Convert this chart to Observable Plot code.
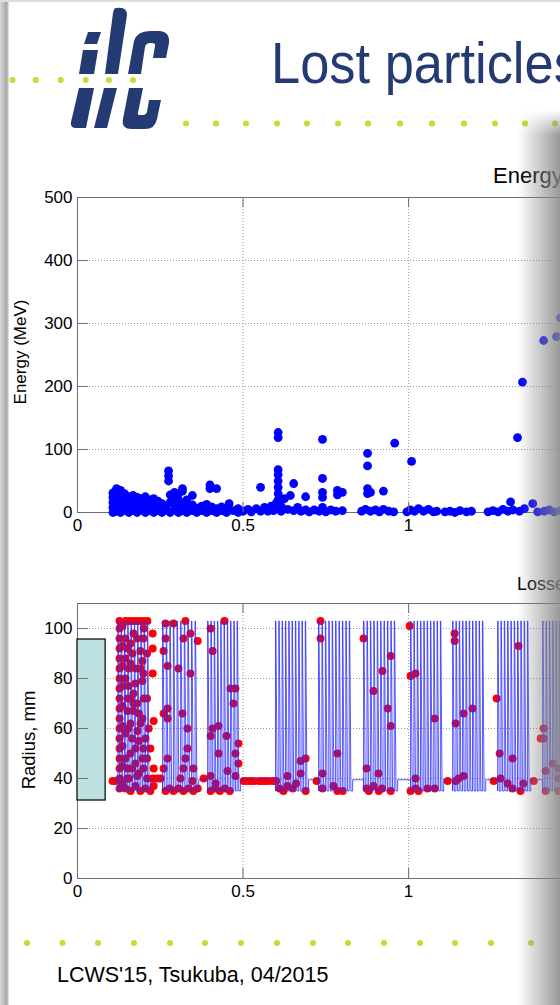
<!DOCTYPE html>
<html><head><meta charset="utf-8">
<script src="https://cdn.jsdelivr.net/npm/d3@7"></script>
<script src="https://cdn.jsdelivr.net/npm/@observablehq/plot@0.6"></script>
<style>
body{margin:0;background:#fff}
#page{position:relative;width:560px;height:1005px;overflow:hidden;background:#fff;font-family:"Liberation Sans",Arial,sans-serif}
.abs{position:absolute}
</style></head><body>
<div id="page">
<svg id="deco" class="abs" style="left:0;top:0" width="560" height="1005"></svg>
<div id="c1" class="abs" style="left:0;top:160px;width:620px"></div>
<div id="c2" class="abs" style="left:0;top:565px;width:620px"></div>
<div id="shR" class="abs" style="left:518px;top:110px;width:42px;height:895px;background:linear-gradient(to right,rgba(150,150,150,0),rgba(135,135,135,0.85));-webkit-mask-image:linear-gradient(to bottom,transparent,#000 25px);mask-image:linear-gradient(to bottom,transparent,#000 25px)"></div>
<div id="shL" class="abs" style="left:0;top:0;width:9px;height:1005px;background:linear-gradient(to right,#d8d8d8,#a6a6a6 75%,#ececec)"></div>
<div class="abs" style="left:0;top:0;width:560px;height:2px;background:#dedede"></div>
</div>
<script>
// ---------- data ----------
const energyTicks = [0, 100, 200, 300, 400, 500];
const radiusTicks = [0, 20, 40, 60, 80, 100];
const sTicks = [0, 0.5, 1, 1.5];
const sGrid = [0.5, 1];

// lost particle energy vs s (x, MeV)
const energyLoss = [
 [0.107,0],[0.107,8],[0.107,16],[0.107,24],[0.107,31],
 [0.118,2],[0.118,12],[0.118,22],[0.118,32],[0.118,38],
 [0.13,0],[0.13,9],[0.13,18],[0.13,27],[0.13,35],
 [0.142,4],[0.142,13],[0.142,22],[0.142,30],
 [0.155,0],[0.155,8],[0.155,17],[0.155,25],
 [0.168,3],[0.168,12],[0.168,21],[0.168,27],
 [0.18,0],[0.18,8],[0.18,17],[0.18,24],
 [0.193,4],[0.193,13],[0.193,22],
 [0.205,0],[0.205,9],[0.205,18],[0.205,25],
 [0.218,3],[0.218,12],[0.218,20],
 [0.23,0],[0.23,8],[0.23,16],[0.23,22],
 [0.243,3],[0.243,11],[0.243,18],
 [0.255,0],[0.255,8],[0.255,14],
 [0.268,4],[0.268,10],
 [0.275,50],[0.275,58],[0.275,66],
 [0.28,0],[0.28,16],[0.28,28],
 [0.293,4],[0.293,12],[0.293,24],[0.293,32],
 [0.305,0],[0.305,8],[0.305,20],[0.305,30],
 [0.317,3],[0.317,14],[0.317,34],[0.317,38],
 [0.33,0],[0.33,8],[0.33,20],
 [0.347,3],[0.347,12],[0.347,27],
 [0.36,0],[0.36,7],[0.375,3],[0.375,10],
 [0.39,0],[0.39,6],[0.39,13],
 [0.4,44],[0.4,38],[0.405,3],[0.405,9],
 [0.42,0],[0.42,6],[0.42,38],[0.435,3],[0.435,9],
 [0.45,0],[0.45,6],[0.458,14],[0.47,3],[0.485,0],[0.485,6],
 [0.5,2],[0.515,5],[0.525,1],[0.54,6],[0.553,40],[0.553,2],
 [0.565,8],[0.575,2],[0.585,10],[0.592,3],[0.6,15],[0.6,6],
 [0.606,127],[0.606,119],[0.606,68],[0.606,60],[0.606,50],[0.606,40],[0.606,30],[0.606,20],
 [0.615,2],[0.615,10],[0.625,22],[0.635,5],[0.643,27],[0.653,46],[0.653,3],
 [0.665,8],[0.675,2],[0.689,25],[0.689,4],[0.7,1],[0.715,4],[0.73,2],
 [0.74,116],[0.74,54],[0.74,32],[0.74,24],[0.74,8],
 [0.75,1],[0.765,4],[0.78,2],[0.785,35],[0.785,28],[0.8,32],[0.8,3],
 [0.858,2],[0.87,5],[0.876,94],[0.876,74],[0.876,38],[0.876,30],
 [0.885,2],[0.885,32],[0.9,4],[0.912,1],[0.924,34],[0.924,5],
 [0.94,2],[0.955,1],[0.958,110],
 [0.995,1],[1.005,4],[1.009,81],[1.018,2],[1.03,6],[1.045,2],[1.06,5],[1.075,1],[1.085,2],
 [1.11,1],[1.125,2],[1.14,0],[1.155,3],[1.175,1],[1.19,2],
 [1.24,1],[1.255,3],[1.27,1],[1.285,5],[1.3,2],[1.308,17],[1.315,4],
 [1.329,119],[1.335,2],[1.344,207],[1.35,6],[1.375,14],
 [1.39,1],[1.408,273],[1.41,2],[1.425,4],[1.44,1],[1.447,279],[1.459,309],[1.459,3]
];

// undulator-module aperture profile: block start, block end, number of teeth
const blockStart = [0.122, 0.257, 0.393, 0.598, 0.728, 0.864, 1.006, 1.133, 1.269, 1.405];
const blockEnd   = [0.221, 0.366, 0.492, 0.698, 0.831, 0.967, 1.106, 1.233, 1.369, 1.505];
const blockTeeth = [10, 10, 10, 10, 10, 10, 10, 10, 10, 10];
const rLow = 35, rHigh = 103, rFlat = 39.5, profileStart = 0.105;

// tank (cyan box): s from/to, radius from/to
const tank = [{s1: 0, s2: 0.085, r1: 31.2, r2: 95.6}];

// lost particle radius vs s (x, mm)
const radiusLoss = [
 // block 1
 [0.127,36],[0.127,40],[0.127,44],[0.127,48],[0.127,52],[0.127,56],[0.127,60],[0.127,64],[0.127,68],[0.127,72],[0.127,76],[0.127,80],[0.127,84],[0.127,88],[0.127,92],[0.127,96],[0.127,100],[0.127,103],
 [0.136,38],[0.136,45],[0.136,53],[0.136,61],[0.136,69],[0.136,77],[0.136,85],[0.136,93],[0.136,101],
 [0.145,103],[0.166,103],[0.19,103],[0.211,103],[0.155,103],[0.178,103],[0.2,103],
 [0.169,98],[0.199,96],[0.227,98],[0.227,92],[0.19,91],[0.166,90],[0.196,87],[0.175,84],[0.199,82],[0.227,82],
 [0.196,79],[0.175,78],[0.154,77],[0.169,74],[0.151,72],[0.169,70],[0.169,67],[0.151,67],[0.196,64],[0.23,63],
 [0.181,59],[0.154,60],[0.205,56],[0.199,52],[0.175,52],[0.196,48],[0.175,46],[0.23,44],[0.199,44],[0.151,44],
 [0.145,88],[0.145,58],[0.16,94],[0.16,62],[0.16,50],[0.18,70],[0.18,96],[0.185,66],[0.21,72],[0.21,90],[0.215,60],[0.145,48],[0.185,55],[0.155,84],[0.2,100],
 [0.145,96],[0.145,80],[0.15,92],[0.16,86],[0.16,72],[0.165,56],[0.19,62],[0.2,72],[0.21,48],[0.22,52],[0.155,40],[0.165,44],[0.185,42],[0.19,84],
 [0.106,39],[0.115,39],[0.145,36],[0.16,35],[0.175,37],[0.19,35],[0.205,36],[0.22,35],[0.23,37],[0.15,40],[0.18,41],[0.21,40],[0.227,40],[0.242,40],[0.251,40],
 // block 2
 [0.266,102],[0.29,102],[0.326,103],[0.32,96],[0.341,98],[0.363,95],[0.266,96],[0.26,91],[0.272,85],[0.305,84],[0.341,82],
 [0.272,68],[0.26,66],[0.272,64],[0.317,66],[0.332,60],[0.332,52],[0.272,48],[0.326,48],[0.26,44],[0.32,44],[0.35,44],[0.311,40],[0.347,39],
 [0.266,35],[0.278,36],[0.29,35],[0.305,36],[0.32,35],[0.335,36],[0.35,35],[0.363,36],
 // block 3
 [0.381,40],[0.402,100],[0.444,103],[0.408,91],[0.462,76],[0.477,76],[0.471,70],[0.408,60],[0.426,61],[0.402,57],[0.45,57],[0.486,54],
 [0.426,50],[0.477,50],[0.486,46],[0.453,43],[0.477,41],[0.402,41],[0.417,38],
 [0.402,35],[0.415,36],[0.43,35],[0.445,36],[0.46,35],
 // gap
 [0.502,39],[0.512,39],[0.522,39],[0.532,39],[0.547,39],[0.557,39],[0.567,39],[0.577,39],[0.59,39],[0.6,39],
 // block 4
 [0.634,41],[0.674,42],[0.674,47],[0.689,48],[0.61,36],[0.622,35],[0.634,37],[0.65,36],[0.66,38],[0.689,35],
 // block 5
 [0.734,103],[0.734,96],[0.722,39],[0.74,42],[0.74,36],[0.785,50],[0.773,37],[0.785,35],[0.801,35],
 // block 6
 [0.864,96],[0.946,89],[0.921,83],[0.894,75],[0.937,68],[0.946,61],[0.873,44],[0.909,42],
 [0.873,36],[0.88,35],[0.894,37],[0.91,35],[0.92,36],[0.946,35],
 // block 7
 [1.003,101],[1.006,81],[1.021,82],[1.079,64],[1.021,40],[1.006,35],[1.021,36],[1.03,35],[1.057,36],[1.079,36],
 [1.118,39],
 // block 8
 [1.139,98],[1.139,95],[1.193,68],[1.166,66],[1.142,62],[1.142,39],[1.151,40],[1.166,41],
 [1.257,39],[1.278,40],
 // block 9
 [1.332,93],[1.266,72],[1.275,50],[1.314,48],[1.299,38],[1.314,36],[1.338,35],[1.347,38],[1.378,39],
 // block 10
 [1.408,60],[1.399,56],[1.408,56],[1.435,46],[1.414,43],[1.414,35],[1.453,44],[1.453,40],[1.453,35]
];

// ---------- profile path from the read block edges ----------
const profile = [{s: profileStart, r: rFlat}];
blockStart.forEach((a, i) => {
  const b = blockEnd[i], n = blockTeeth[i], p = (b - a) / n;
  profile.push({s: a, r: rFlat});
  for (let k = 0; k < n; k++) {
    const xa = a + k * p;
    profile.push({s: xa, r: rLow}, {s: xa, r: rHigh}, {s: xa + 0.12 * p, r: rHigh}, {s: xa + 0.5 * p, r: rLow});
  }
  profile.push({s: b, r: rLow}, {s: b, r: rFlat});
});

// ---------- charts ----------
const FONT = "Liberation Sans, Arial, Helvetica, sans-serif";
const fmt = d => String(d);
const axisGray = "#6e6e6e";
const gridStyle = {stroke: "#9a9a9a", strokeOpacity: 1, strokeDasharray: "1,2"};
const common = {
  width: 620, marginLeft: 77, marginRight: 0,
  style: {background: "transparent", maxWidth: "none", fontFamily: FONT, fontSize: "17px", color: "#000"}
};

const c1 = Plot.plot({
  ...common, height: 400, marginTop: 37, marginBottom: 48,
  x: {domain: [0, 1.64]}, y: {domain: [0, 500]},
  marks: [
    Plot.gridY(energyTicks.slice(1, -1), gridStyle),
    Plot.gridX(sGrid, gridStyle),
    Plot.frame({stroke: axisGray}),
    Plot.dot(energyLoss, {x: d => d[0], y: d => d[1], r: 4.4, fill: "#0000ff"}),
    Plot.ruleY(energyTicks.slice(1, -1), {x1: 0, x2: 0.033, stroke: axisGray}),
    Plot.ruleX(sGrid, {y1: 500, y2: 484, stroke: axisGray}),
    Plot.ruleX(sGrid, {y1: 0, y2: 16, stroke: axisGray}),
    Plot.axisY(energyTicks, {tickSize: 0, tickPadding: 5, label: null, fontSize: 17}),
    Plot.axisX(sTicks, {tickSize: 0, tickPadding: 6, label: null, tickFormat: fmt, fontSize: 17})
  ]
});
document.getElementById("c1").append(c1);

const c2 = Plot.plot({
  ...common, height: 345, marginTop: 38, marginBottom: 32,
  x: {domain: [0, 1.64]}, y: {domain: [0, 110]},
  marks: [
    Plot.gridY(radiusTicks.slice(1), gridStyle),
    Plot.gridX(sGrid, gridStyle),
    Plot.frame({stroke: axisGray}),
    Plot.rect(tank, {x1: "s1", x2: "s2", y1: "r1", y2: "r2", fill: "#bde0e0", stroke: "#111", strokeWidth: 1.3}),
    Plot.dot(radiusLoss, {x: d => d[0], y: d => d[1], r: 4, fill: "#ff0000"}),
    Plot.line(profile, {x: "s", y: "r", stroke: "#2a2aff", strokeWidth: 1, strokeOpacity: 0.8}),
    Plot.ruleY(radiusTicks.slice(1), {x1: 0, x2: 0.033, stroke: axisGray}),
    Plot.ruleX(sGrid, {y1: 110, y2: 106, stroke: axisGray}),
    Plot.ruleX(sGrid, {y1: 0, y2: 4, stroke: axisGray}),
    Plot.axisY(radiusTicks, {tickSize: 0, tickPadding: 5, label: null, fontSize: 17}),
    Plot.axisX(sTicks, {tickSize: 0, tickPadding: 6, label: null, tickFormat: fmt, fontSize: 17})
  ]
});
document.getElementById("c2").append(c2);

// ---------- slide decoration ----------
const navy = "#233a72", lime = "#c6dc32";
const topDots = [12.5, 35.7, 60.7, 85.7, 109, 133];
const midDots = [186, 216, 246, 277, 307, 338, 368, 400, 432, 464, 495, 525, 555];
const footDots = [27, 62.5, 98, 134, 170, 205, 241, 277, 313, 348, 384, 420, 455, 491, 531];
const deco = d3.select("#deco");
const logo = deco.append("g").attr("fill", navy);
// i
logo.append("path").attr("d", "M88,32 L101,32 L97,44 L84,44 Z");
logo.append("path").attr("d", "M83,50 L98,50 L94,74 L79,74 Z");
logo.append("path").attr("d", "M79,88 L94,88 L86,128 L76,128 Q70,128 71,122 Z");
// l
logo.append("path").attr("d", "M116,8 Q127,6 127,15 L118,74 L105,74 L113,13 Q114,8 116,8 Z");
logo.append("path").attr("d", "M104,88 L117,88 L107,128 L94,128 Z");
// c upper
logo.append("path").attr("d", "M128,74 L134,41 Q137,31 150,31 L160,31 Q170,32 169,43 L166,58 L153,58 L155,46 Q156,43 151,43 L150,43 Q146,43 145,47 L141,74 Z");
// c lower
logo.append("path").attr("d", "M129,88 L143,88 L138,113 Q137,115 140,115 L144,115 Q146,115 147,112 L149,100 L161,100 L157,119 Q155,129 145,129 L132,129 Q121,129 123,119 Z");

deco.selectAll("circle.t").data(topDots).join("circle").attr("cx", d => d).attr("cy", 80).attr("r", 3).attr("fill", lime);
deco.selectAll("circle.m").data(midDots).join("circle").attr("cx", d => d).attr("cy", 123.5).attr("r", 3).attr("fill", lime);
deco.selectAll("circle.f").data(footDots).join("circle").attr("cx", d => d).attr("cy", 943).attr("r", 3).attr("fill", lime);

deco.append("text").attr("transform", "translate(271,83) scale(0.92,1)").attr("font-size", 57)
  .attr("font-family", FONT).attr("fill", navy).text("Lost particles");
deco.append("text").attr("x", 57).attr("y", 982).attr("font-size", 21.5)
  .attr("font-family", FONT).attr("fill", "#000").text("LCWS'15, Tsukuba, 04/2015");
deco.append("text").attr("x", 493).attr("y", 183).attr("font-size", 22)
  .attr("font-family", FONT).attr("fill", "#000").text("Energy");
deco.append("text").attr("x", 517).attr("y", 590).attr("font-size", 18)
  .attr("font-family", FONT).attr("fill", "#000").text("Losses");
deco.append("text").attr("transform", "translate(25.5,352) rotate(-90)").attr("text-anchor", "middle")
  .attr("font-size", 17).attr("font-family", FONT).attr("fill", "#000").text("Energy (MeV)");
deco.append("text").attr("transform", "translate(35,740) rotate(-90)").attr("text-anchor", "middle")
  .attr("font-size", 18.5).attr("font-family", FONT).attr("fill", "#000").text("Radius, mm");
</script>
</body></html>
